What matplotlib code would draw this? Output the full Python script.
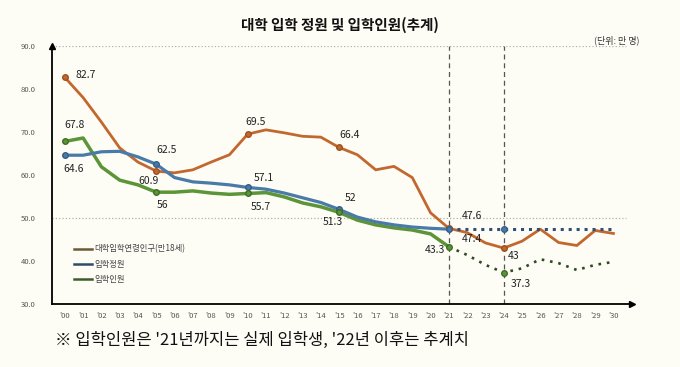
import numpy as np
import matplotlib
matplotlib.use('Agg')
import matplotlib.pyplot as plt
from matplotlib.lines import Line2D

plt.rcParams['font.family'] = ['Noto Sans CJK KR', 'DejaVu Sans']

# 연도 ('00 ~ '30)
years = np.arange(0, 31)
year_labels = ["'%02d" % y for y in years]

# 대학입학연령인구(만18세), '00 ~ '30
pop = [82.7, 78.0, 72.3, 66.3, 63.0, 60.9, 60.5, 61.2, 63.0, 64.7,
       69.5, 70.5, 69.8, 69.0, 68.8, 66.4, 64.7, 61.2, 62.0, 59.4,
       51.2, 47.6, 46.6, 44.2, 43.0, 44.6, 47.4, 44.3, 43.6, 47.1, 46.4]

# 입학정원, '00 ~ '21 (실적) / '21 ~ '30 (추계)
quota = [64.6, 64.6, 65.4, 65.5, 64.2, 62.5, 59.4, 58.4, 58.1, 57.7,
         57.1, 56.7, 55.8, 54.7, 53.6, 52.0, 50.2, 49.1, 48.4, 47.9,
         47.6, 47.4]
quota_est = [47.4, 47.4, 47.4, 47.4, 47.4, 47.4, 47.4, 47.4, 47.4, 47.4]

# 입학인원, '00 ~ '21 (실제) / '21 ~ '30 (추계)
admit = [67.8, 68.6, 61.9, 58.8, 57.7, 56.0, 56.0, 56.3, 55.8, 55.5,
         55.7, 55.9, 54.9, 53.5, 52.6, 51.3, 49.5, 48.4, 47.7, 47.2,
         46.3, 43.3]
admit_est = [43.3, 41.4, 39.1, 37.3, 38.3, 40.4, 39.5, 37.9, 39.1, 39.8]

legend_labels = ['대학입학연령인구(만18세)', '입학정원', '입학인원']
marker_years = [0, 5, 10, 15, 21, 24]

c_pop = '#c2682e'
c_quota = '#4a7aa8'
c_admit = '#5c9438'
bg = '#fdfdf6'

fig = plt.figure(figsize=(6.8, 3.67), dpi=100, facecolor=bg)
ax = fig.add_axes([0.0765, 0.1717, 0.8525, 0.703])
ax.set_facecolor(bg)

yr_a = years[:len(quota)]
yr_e = years[len(quota) - 1:]

# 보조선
ax.hlines([90, 50], -0.7, 30.7, colors='#b0b0b0', linestyles=':', lw=0.9, zorder=1)
for yv in [21, 24]:
    ax.vlines(yv, 30, 90, colors='#555555', linestyles=(0, (4, 3)), lw=0.9, zorder=1)

# 시리즈
ax.plot(years, pop, color=c_pop, lw=2.0, zorder=3, solid_joinstyle='round')
ax.plot(yr_a, quota, color=c_quota, lw=2.3, zorder=4, solid_joinstyle='round')
ax.plot(yr_e, quota_est, color='#2f4f78', lw=2.2, ls=(0, (1, 1.6)), zorder=4)
ax.plot(yr_a, admit, color=c_admit, lw=2.5, zorder=3, solid_joinstyle='round')
ax.plot(yr_e, admit_est, color='#2e4a22', lw=1.9, ls=(0, (1, 2.2)), zorder=3)

quota_all = quota + quota_est[1:]
admit_all = admit + admit_est[1:]
for yv in marker_years:
    ax.plot(yv, pop[yv], 'o', ms=4, color=c_pop, mec='#a0501e', zorder=5)
    ax.plot(yv, quota_all[yv], 'o', ms=4, color=c_quota, mec='#335e88', zorder=5)
    ax.plot(yv, admit_all[yv], 'o', ms=4, color=c_admit, mec='#3d6e25', zorder=5)

# 데이터 레이블
def lab(x, y, txt, dx, dy, ha='left'):
    ax.annotate(txt, (x, y), xytext=(dx, dy), textcoords='offset points',
                fontsize=7.5, color='#222222', ha=ha, va='center', zorder=6)

lab(0, pop[0], '82.7', 8, 2)
lab(0, admit[0], '67.8', 0, 12)
lab(0, quota[0], '64.6', -1, -10)
lab(5, quota[5], '62.5', 0, 10)
lab(5, pop[5], '60.9', -13, -7)
lab(5, admit[5], '56', 0, -9)
lab(10, pop[10], '69.5', -2, 9)
lab(10, quota[10], '57.1', 4, 7)
lab(10, admit[10], '55.7', 2, -10)
lab(15, pop[15], '66.4', 0, 9)
lab(15, quota[15], '52', 4, 8)
lab(15, admit[15], '51.3', -12, -7)
lab(21, pop[21], '47.6', 9, 9)
lab(21, quota[21], '47.4', 9, -7)
lab(21, admit[21], '43.3', -3, -2, ha='right')
lab(24, pop[24], '43', 3, -6)
lab(24, admit_est[3], '37.3', 5, -8)

# 축
ax.set_xlim(-0.7, 31.0)
ax.set_ylim(30, 90)
ax.set_xticks(years)
ax.set_xticklabels(year_labels)
ax.set_yticks(np.arange(30, 91, 10))
ax.set_yticklabels(['%.1f' % v for v in np.arange(30, 91, 10)])
ax.tick_params(length=0, labelsize=5.5, labelcolor='#555555')
ax.tick_params(axis='y', pad=12)
ax.tick_params(axis='x', pad=6)
for s in ['top', 'right']:
    ax.spines[s].set_visible(False)
for s in ['left', 'bottom']:
    ax.spines[s].set_linewidth(1.3)
ax.plot(1, 30, '>k', ms=5, transform=ax.get_yaxis_transform(), clip_on=False)
ax.plot(-0.7, 1, '^k', ms=5, transform=ax.get_xaxis_transform(), clip_on=False)

# 범례
handles = [Line2D([], [], color='#6a5a38', lw=1.8),
           Line2D([], [], color='#2f4a6a', lw=1.8),
           Line2D([], [], color='#3d5e2c', lw=1.8)]
ax.legend(handles, legend_labels, loc='upper left', bbox_to_anchor=(0.025, 0.26),
          frameon=False, fontsize=6, handlelength=2.2, handletextpad=0.2,
          labelspacing=0.75, labelcolor='#444444')

fig.text(0.5, 1 - 25 / 367, '대학 입학 정원 및 입학인원(추계)', ha='center', va='center',
         fontsize=10.5, fontweight='bold', color='#111111')
fig.text(0.94, 1 - 40 / 367, '(단위: 만 명)', ha='right', va='center',
         fontsize=6.5, color='#333333')
fig.text(0.081, 1 - 340 / 367, "※ 입학인원은 '21년까지는 실제 입학생, '22년 이후는 추계치",
         ha='left', va='center', fontsize=11.9, color='#111111')

fig.savefig('out.png', dpi=100, facecolor=bg)
